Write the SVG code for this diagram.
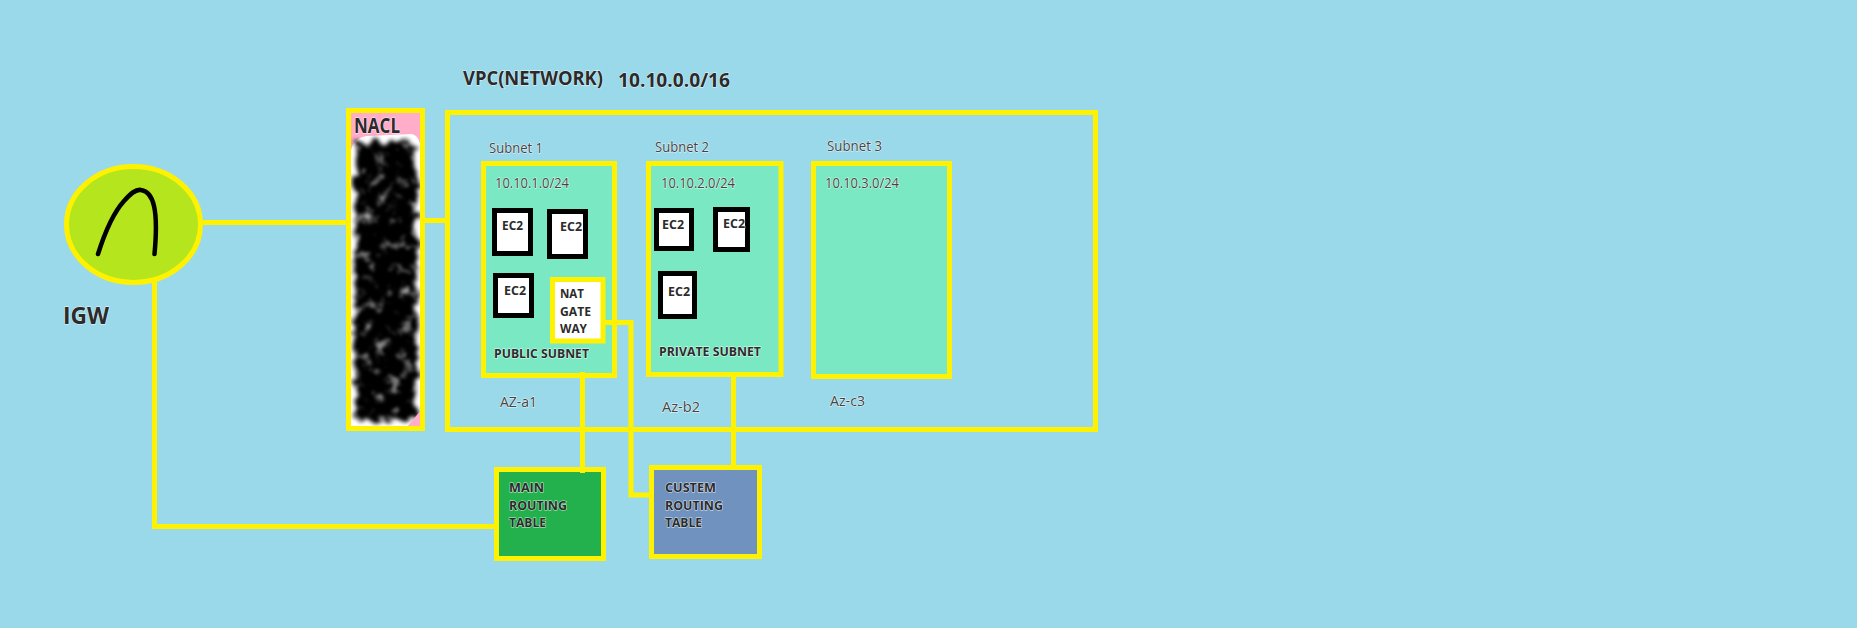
<svg xmlns="http://www.w3.org/2000/svg" width="1857" height="628" viewBox="0 0 1857 628">
<style>
.y{fill:none;stroke:#FFF200;stroke-width:5}
.s{fill:#7AE9C3;stroke:#FFF200;stroke-width:5}
.e{fill:#fff;stroke:#000;stroke-width:5}
text{font-family:"Open Sans","Noto Sans","Liberation Sans",sans-serif;fill:#2b2b2b;stroke:#fff;stroke-width:1;paint-order:stroke;stroke-opacity:.8}
.h{font-weight:700;font-size:19px}
.t{font-size:14px;fill:#444}
.m{font-size:13px;font-weight:700}
.n{font-size:12.500px;font-weight:700}
</style>
<defs>
<filter id="rough" x="-20%" y="-5%" width="140%" height="110%">
<feTurbulence type="fractalNoise" baseFrequency=".1" numOctaves="3" seed="7" result="t"/>
<feDisplacementMap in="SourceGraphic" in2="t" scale="16" xChannelSelector="R" yChannelSelector="G"/>
<feGaussianBlur stdDeviation="2"/>
</filter>
<filter id="speck" x="0" y="0" width="100%" height="100%">
<feTurbulence type="fractalNoise" baseFrequency=".08" numOctaves="3" seed="21"/>
<feColorMatrix values="0 0 0 0 .85  0 0 0 0 .85  0 0 0 0 .85  2 0 0 0 -1.08"/>
<feGaussianBlur stdDeviation="1.5"/>
<feComposite in2="SourceAlpha" operator="in"/>
</filter>
<clipPath id="naclClip"><rect x="351" y="113" width="69" height="313"/></clipPath>
</defs>
<rect width="1857" height="628" fill="#99D9EA"/>

<g id="igw">
<ellipse cx="133.500" cy="224.500" rx="67" ry="58" fill="#B5E61D" stroke="#FFF200" stroke-width="5"/>
<path d="M98 254C105 232 114 212 124 201C131 193 136 189 141 190C148 191 152 197 154 206C157 219 156 238 154.500 254" fill="none" stroke="#000" stroke-width="4.500" stroke-linecap="round"/>
<text x="63" y="324" font-size="23" font-weight="700" textLength="46" lengthAdjust="spacingAndGlyphs">IGW</text>
</g>

<g id="nacl">
<rect x="348.500" y="110.500" width="74" height="318" fill="#FFADC9" stroke="#FFF200" stroke-width="5"/>
<g clip-path="url(#naclClip)">
<path d="M351 150Q354 138 366 136L412 134Q420 136 421 150V410L408 426H351Z" fill="#fff"/>
<rect x="355" y="142" width="62" height="278" rx="6" fill="#000" filter="url(#rough)"/>
<rect x="352" y="138" width="68" height="286" fill="#000" filter="url(#speck)"/>
<path d="M421 410L408 426H421Z" fill="#FFADC9"/>
</g>
<rect x="348.500" y="110.500" width="74" height="318" class="y"/>
<text x="354" y="133" font-size="21" font-weight="700" textLength="46" lengthAdjust="spacingAndGlyphs">NACL</text>
</g>

<g id="vpc">
<rect x="447.500" y="112.500" width="648" height="317" class="y"/>
<text class="h" x="463" y="85" textLength="140" lengthAdjust="spacingAndGlyphs">VPC(NETWORK)</text>
<text class="h" x="618" y="87" textLength="112" lengthAdjust="spacingAndGlyphs">10.10.0.0/16</text>
</g>

<g id="subnet1">
<rect x="483.500" y="163.500" width="131" height="212" class="s"/>
<text class="t" x="489" y="153" textLength="54" lengthAdjust="spacingAndGlyphs">Subnet 1</text>
<text class="t" x="495" y="188" textLength="74" lengthAdjust="spacingAndGlyphs">10.10.1.0/24</text>
<text class="n" x="494" y="358" textLength="95" lengthAdjust="spacingAndGlyphs">PUBLIC SUBNET</text>
<text class="t" x="500" y="407" textLength="37" lengthAdjust="spacingAndGlyphs">AZ-a1</text>
</g>
<g id="ec2-1"><rect x="494.500" y="210.500" width="36" height="43" class="e"/><text class="m" x="502" y="230" textLength="21" lengthAdjust="spacingAndGlyphs">EC2</text></g>
<g id="ec2-2"><rect x="549.500" y="211.500" width="36" height="45" class="e"/><text class="m" x="560" y="231" textLength="22" lengthAdjust="spacingAndGlyphs">EC2</text></g>
<g id="ec2-3"><rect x="495.500" y="275.500" width="36" height="40" class="e"/><text class="m" x="504" y="295" textLength="22" lengthAdjust="spacingAndGlyphs">EC2</text></g>
<g id="nat">
<rect x="552.500" y="279.500" width="50.500" height="61.500" fill="#fff" stroke="#FFF200" stroke-width="5"/>
<text class="m" x="560" y="298" textLength="24" lengthAdjust="spacingAndGlyphs">NAT</text>
<text class="m" x="560" y="316" textLength="31" lengthAdjust="spacingAndGlyphs">GATE</text>
<text class="m" x="560" y="333" textLength="27" lengthAdjust="spacingAndGlyphs">WAY</text>
</g>

<g id="subnet2">
<rect x="648.500" y="163.500" width="132.500" height="211" class="s"/>
<text class="t" x="655" y="152" textLength="54" lengthAdjust="spacingAndGlyphs">Subnet 2</text>
<text class="t" x="661" y="188" textLength="74" lengthAdjust="spacingAndGlyphs">10.10.2.0/24</text>
<text class="n" x="659" y="356" textLength="102" lengthAdjust="spacingAndGlyphs">PRIVATE SUBNET</text>
<text class="t" x="662" y="412" textLength="38" lengthAdjust="spacingAndGlyphs">Az-b2</text>
</g>
<g id="ec2-4"><rect x="656.500" y="210.500" width="35" height="38" class="e"/><text class="m" x="662" y="229" textLength="22" lengthAdjust="spacingAndGlyphs">EC2</text></g>
<g id="ec2-5"><rect x="715.500" y="209.500" width="32" height="40" class="e"/><text class="m" x="723" y="228" textLength="22" lengthAdjust="spacingAndGlyphs">EC2</text></g>
<g id="ec2-6"><rect x="660.500" y="273.500" width="34" height="43" class="e"/><text class="m" x="668" y="296" textLength="22" lengthAdjust="spacingAndGlyphs">EC2</text></g>

<g id="subnet3">
<rect x="813.500" y="163.500" width="136" height="213" class="s"/>
<text class="t" x="827" y="151" textLength="55" lengthAdjust="spacingAndGlyphs">Subnet 3</text>
<text class="t" x="825" y="188" textLength="74" lengthAdjust="spacingAndGlyphs">10.10.3.0/24</text>
<text class="t" x="830" y="406" textLength="35" lengthAdjust="spacingAndGlyphs">Az-c3</text>
</g>

<g id="main-routing-table">
<rect x="496.500" y="469.500" width="107" height="89" fill="#22B14C" stroke="#FFF200" stroke-width="5"/>
<text class="m" x="509" y="492" textLength="35" lengthAdjust="spacingAndGlyphs">MAIN</text>
<text class="m" x="509" y="510" textLength="58" lengthAdjust="spacingAndGlyphs">ROUTING</text>
<text class="m" x="509" y="527" textLength="37" lengthAdjust="spacingAndGlyphs">TABLE</text>
</g>
<g id="custom-routing-table">
<rect x="651.500" y="467.500" width="108" height="89" fill="#7092BE" stroke="#FFF200" stroke-width="5"/>
<text class="m" x="665" y="492" textLength="51" lengthAdjust="spacingAndGlyphs">CUSTEM</text>
<text class="m" x="665" y="510" textLength="58" lengthAdjust="spacingAndGlyphs">ROUTING</text>
<text class="m" x="665" y="527" textLength="37" lengthAdjust="spacingAndGlyphs">TABLE</text>
</g>

<g id="connectors">
<path class="y" d="M200 222.500H347"/>
<path class="y" d="M425 220.500H446"/>
<path class="y" d="M154.500 281V526.500H495"/>
<path class="y" d="M603 322.500H631V495H650"/>
<path class="y" d="M582.500 372V473"/>
<path class="y" d="M733.500 376V466"/>
</g>
</svg>
